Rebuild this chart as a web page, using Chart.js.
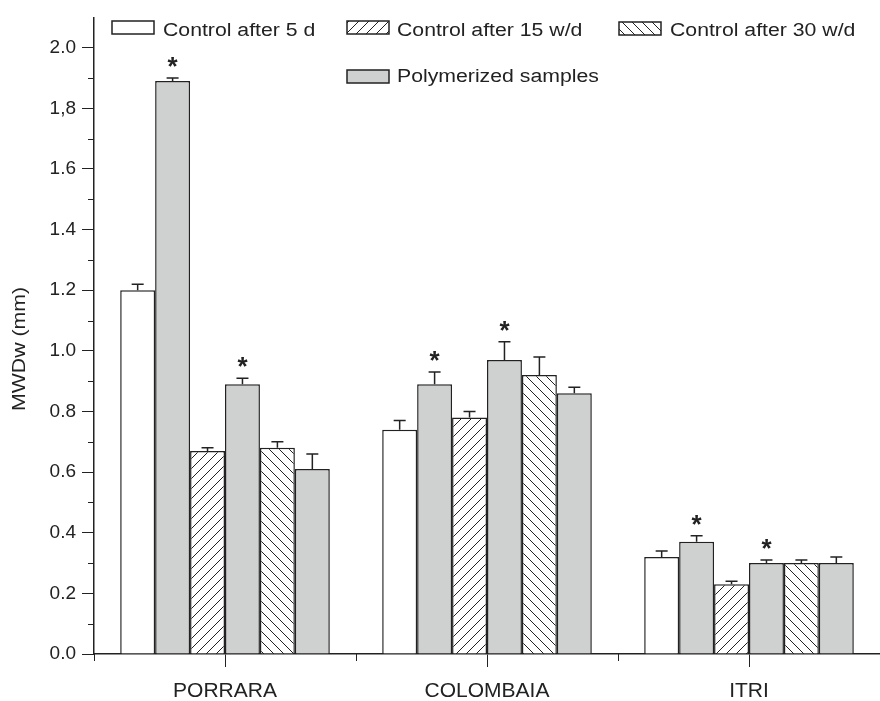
<!DOCTYPE html>
<html>
<head>
<meta charset="utf-8">
<title>MWDw</title>
<script src="https://cdn.jsdelivr.net/npm/chart.js@4.4.1/dist/chart.umd.min.js"></script>
<style>
  html, body { margin: 0; padding: 0; background: #fff; }
  canvas { display: block; }
</style>
</head>
<body>
<canvas id="mwdChart" width="880" height="701"></canvas>
<script>
const categories = ["PORRARA", "COLOMBAIA", "ITRI"];

const control5d = [1.2, 0.74, 0.32];
const control5dErr = [0.02, 0.03, 0.02];
const polymer5d = [1.89, 0.89, 0.37];
const polymer5dErr = [0.01, 0.04, 0.02];
const control15wd = [0.67, 0.78, 0.23];
const control15wdErr = [0.01, 0.02, 0.01];
const polymer15wd = [0.89, 0.97, 0.3];
const polymer15wdErr = [0.02, 0.06, 0.01];
const control30wd = [0.68, 0.92, 0.3];
const control30wdErr = [0.02, 0.06, 0.01];
const polymer30wd = [0.61, 0.86, 0.3];
const polymer30wdErr = [0.05, 0.02, 0.02];

// significant difference marks (*) for the polymerized bars
const polymer5dStar = [true, true, true];
const polymer15wdStar = [true, true, true];
const polymer30wdStar = [false, false, false];

const yTickValues = [0, 0.2, 0.4, 0.6, 0.8, 1.0, 1.2, 1.4, 1.6, 1.8, 2.0];
const yTickLabels = ["0.0", "0.2", "0.4", "0.6", "0.8", "1.0", "1.2", "1.4", "1.6", "1,8", "2.0"];
const yTitle = "MWDw (mm)";

const INK = "#222";
const GREY = "#cfd0d0";
const FONT = "'Liberation Sans', Arial, sans-serif";

const canvas = document.getElementById("mwdChart");
const ctx = canvas.getContext("2d");

function makeHatch(forward) {
  const c = document.createElement("canvas");
  c.width = 10;
  c.height = 10;
  const g = c.getContext("2d");
  g.fillStyle = "#fff";
  g.fillRect(0, 0, 10, 10);
  g.strokeStyle = INK;
  g.lineWidth = 1;
  g.beginPath();
  if (forward) {
    g.moveTo(0, 10); g.lineTo(10, 0);
    g.moveTo(-1, 1); g.lineTo(1, -1);
    g.moveTo(9, 11); g.lineTo(11, 9);
  } else {
    g.moveTo(0, 0); g.lineTo(10, 10);
    g.moveTo(-1, 9); g.lineTo(1, 11);
    g.moveTo(9, -1); g.lineTo(11, 1);
  }
  g.stroke();
  return ctx.createPattern(c, "repeat");
}

const hatchFwd = makeHatch(true);
const hatchBack = makeHatch(false);

function bars(label, data, errors, stars, fill) {
  return {
    label: label,
    data: data,
    errors: errors,
    stars: stars,
    backgroundColor: fill,
    borderColor: INK,
    borderWidth: 1.5,
    barPercentage: 1,
    categoryPercentage: 0.8,
  };
}

const datasets = [
  bars("Control after 5 d", control5d, control5dErr, null, "#fff"),
  bars("Polymerized samples", polymer5d, polymer5dErr, polymer5dStar, GREY),
  bars("Control after 15 w/d", control15wd, control15wdErr, null, hatchFwd),
  bars("Polymerized samples", polymer15wd, polymer15wdErr, polymer15wdStar, GREY),
  bars("Control after 30 w/d", control30wd, control30wdErr, null, hatchBack),
  bars("Polymerized samples", polymer30wd, polymer30wdErr, polymer30wdStar, GREY),
];

// legend entries: [dataset index, box x, box y, text x, text y]
const legendSlots = [
  [0, 112, 21, 163, 31],
  [2, 347, 21, 397, 31],
  [4, 619, 22, 670, 31],
  [1, 347, 70, 397, 77],
];

// text in this figure is set a bit wide, so stretch it horizontally
function wideText(c, text, x, y, stretch) {
  c.save();
  c.translate(x, y);
  c.scale(stretch, 1);
  c.fillText(text, 0, 0);
  c.restore();
}

const extras = {
  id: "extras",
  afterDatasetsDraw(chart) {
    const c = chart.ctx;
    const y = chart.scales.y;
    const x = chart.scales.x;
    const area = chart.chartArea;

    c.save();
    c.strokeStyle = INK;
    c.fillStyle = INK;
    c.lineWidth = 1.5;

    // error bars (upper half only) and star marks
    chart.data.datasets.forEach((ds, i) => {
      const meta = chart.getDatasetMeta(i);
      meta.data.forEach((bar, j) => {
        const top = y.getPixelForValue(ds.data[j]);
        const capY = y.getPixelForValue(ds.data[j] + ds.errors[j]);
        c.beginPath();
        c.moveTo(bar.x, top);
        c.lineTo(bar.x, capY);
        c.moveTo(bar.x - 6, capY);
        c.lineTo(bar.x + 6, capY);
        c.stroke();
        if (ds.stars && ds.stars[j]) {
          c.font = "bold 26px " + FONT;
          c.textAlign = "center";
          c.textBaseline = "alphabetic";
          c.fillText("*", bar.x, capY - 3);
        }
      });
    });

    // minor ticks on the y axis
    c.lineWidth = 1;
    for (let k = 0; k < yTickValues.length - 1; k++) {
      const py = Math.round(y.getPixelForValue((yTickValues[k] + yTickValues[k + 1]) / 2)) + 0.5;
      c.beginPath();
      c.moveTo(area.left - 6, py);
      c.lineTo(area.left, py);
      c.stroke();
    }

    // minor ticks between categories on the x axis
    const half = (x.getPixelForValue(1) - x.getPixelForValue(0)) / 2;
    for (let k = 0; k <= categories.length; k++) {
      const px = Math.round(x.getPixelForValue(k) - half) + 0.5;
      c.beginPath();
      c.moveTo(px, area.bottom);
      c.lineTo(px, area.bottom + 7);
      c.stroke();
    }

    // y axis title
    c.font = "19px " + FONT;
    c.textAlign = "center";
    c.textBaseline = "middle";
    c.save();
    c.translate(20, 349);
    c.rotate(-Math.PI / 2);
    wideText(c, yTitle, 0, 0, 1.12);
    c.restore();

    // legend
    c.font = "18px " + FONT;
    c.textAlign = "left";
    c.textBaseline = "middle";
    legendSlots.forEach(([idx, bx, by, tx, ty]) => {
      const ds = chart.data.datasets[idx];
      c.fillStyle = ds.backgroundColor;
      c.fillRect(bx, by, 42, 13);
      c.lineWidth = 1.5;
      c.strokeStyle = INK;
      c.strokeRect(bx, by, 42, 13);
      c.fillStyle = INK;
      wideText(c, ds.label, tx, ty, 1.18);
    });
    c.restore();
  },
};

new Chart(ctx, {
  type: "bar",
  data: {
    labels: categories,
    datasets: datasets,
  },
  options: {
    responsive: false,
    animation: false,
    devicePixelRatio: 1,
    layout: { padding: { top: 10, right: 0, left: 0, bottom: 0 } },
    plugins: {
      legend: { display: false },
      tooltip: { enabled: false },
    },
    scales: {
      x: {
        offset: true,
        grid: {
          offset: false,
          drawOnChartArea: false,
          tickLength: 13,
          tickColor: INK,
          tickWidth: 1,
        },
        border: { color: INK, width: 1.5 },
        ticks: {
          color: INK,
          padding: 12,
          font: { family: FONT, size: 21 },
        },
        afterFit: (scale) => {
          scale.height = 47;
        },
      },
      y: {
        min: 0,
        max: 2.1,
        grid: {
          drawOnChartArea: false,
          tickLength: 12,
          tickColor: INK,
          tickWidth: 1,
        },
        border: { color: INK, width: 1.5 },
        afterBuildTicks: (scale) => {
          scale.ticks = yTickValues.map((v) => ({ value: v }));
        },
        ticks: {
          color: INK,
          padding: 6,
          font: { family: FONT, size: 19 },
          callback: (value, index) => yTickLabels[index],
        },
        afterFit: (scale) => {
          scale.width = 94;
        },
      },
    },
  },
  plugins: [extras],
});
</script>
</body>
</html>
